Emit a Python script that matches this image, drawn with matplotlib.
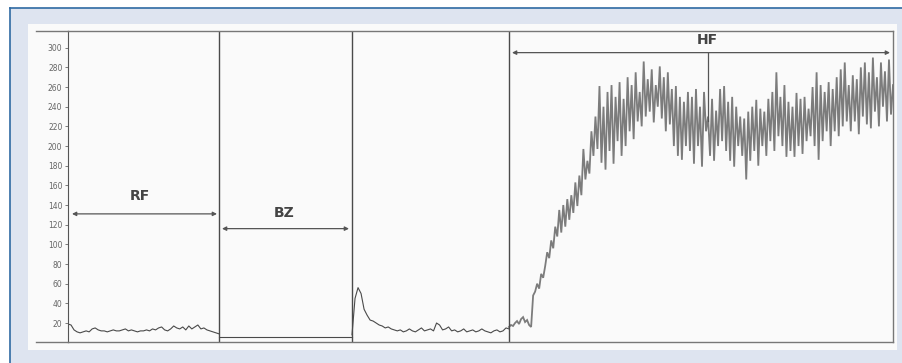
import matplotlib
matplotlib.use('Agg')
import matplotlib.pyplot as plt
from matplotlib.patches import Rectangle
from matplotlib.lines import Line2D
import numpy as np

# ── Data ────────────────────────────────────────────────────
# x axis: arbitrary sample units 0..825
x_rf_end, x_bz_end, x_hf_start, x_end = 151, 284, 441, 825

rf_y = [19, 18, 13, 11, 10, 11, 12, 11, 14, 15, 13, 12, 12, 11, 12, 13, 12,
        12, 13, 14, 12, 13, 12, 11, 12, 12, 13, 12, 14, 13, 15, 16, 13, 12,
        14, 17, 15, 14, 16, 13, 17, 14, 16, 18, 14, 15, 13, 12, 11, 10, 9]
bz_y = [6, 6, 6, 6, 6, 6, 6, 6, 6, 6, 6]
rec_y = [8, 45, 56, 50, 34, 28, 23, 22, 20, 18, 17, 15, 16, 14, 13, 12, 13,
         11, 12, 14, 12, 11, 13, 15, 12, 13, 14, 12, 20, 18, 13, 14, 16, 12,
         13, 11, 12, 14, 11, 12, 13, 11, 12, 14, 12, 11, 10, 12, 13, 11, 12,
         15, 14]
hf_y = [16, 18, 17, 20, 22, 19, 24, 26, 21, 23,
        18, 16, 48, 52, 60, 55, 70, 66, 78, 92,
        86, 104, 96, 118, 108, 135, 112, 140, 118, 146,
        125, 150, 132, 163, 139, 170, 150, 197, 166, 185,
        172, 215, 190, 230, 197, 261, 183, 240, 176, 255,
        195, 262, 182, 250, 205, 265, 190, 248, 200, 270,
        215, 262, 207, 275, 225, 255, 220, 286, 230, 268,
        235, 278, 224, 262, 240, 281, 228, 270, 215, 275,
        222, 258, 200, 261, 190, 250, 186, 245, 200, 255,
        195, 250, 182, 258, 200, 240, 179, 255, 215, 230,
        190, 248, 185, 236, 200, 258, 205, 261, 195, 245,
        185, 250, 179, 240, 200, 230, 190, 228, 166, 235,
        185, 240, 195, 247, 180, 238, 200, 235, 190, 248,
        205, 255, 195, 275, 210, 250, 200, 262, 189, 245,
        195, 240, 189, 254, 200, 248, 192, 250, 205, 238,
        210, 260, 200, 275, 186, 262, 205, 255, 215, 265,
        200, 258, 215, 270, 210, 278, 220, 285, 225, 262,
        215, 272, 225, 268, 212, 280, 230, 285, 222, 275,
        218, 290, 235, 270, 220, 285, 240, 276, 225, 288, 232, 262]

y_ticks = list(range(20, 301, 20))
zones = [('RF', 4, 149, 131, 72, 149), ('BZ', 154, 281, 116, 216, 132)]
hf_arrow = (444, 822, 295)
hf_label = (639, 308)

# ── Figure ──────────────────────────────────────────────────
W, H = 903, 363
fig = plt.figure(figsize=(W / 100, H / 100), dpi=100, facecolor='white')

def fx(px):
    return px / W

def fy(py):
    return 1 - py / H

# page background + blue frame
fig.patches.append(Rectangle((fx(10), 0), 1 - fx(10), fy(8), transform=fig.transFigure,
                             facecolor='#dee4f0', edgecolor='none', zorder=-3))
fig.lines.append(Line2D([fx(10), 1], [fy(8), fy(8)], transform=fig.transFigure,
                        color='#2f6aa3', lw=1.2, zorder=-2))
fig.lines.append(Line2D([fx(10), fx(10)], [0, fy(8)], transform=fig.transFigure,
                        color='#2f6aa3', lw=1.2, zorder=-2))
# inner white panel
fig.patches.append(Rectangle((fx(28), fy(350)), fx(897) - fx(28), fy(24) - fy(350),
                             transform=fig.transFigure, facecolor='#fafafa',
                             edgecolor='none', zorder=-1))

ax = fig.add_axes([fx(68), fy(342), fx(893) - fx(68), fy(31) - fy(342)])
ax.set_facecolor('none')
ax.set_xlim(0, x_end)
ax.set_ylim(0.7, 317)

line_c = '#4a4a4a'
ax.plot(np.linspace(0, x_rf_end, len(rf_y)), rf_y, color=line_c, lw=0.8)
ax.plot(np.linspace(x_rf_end, x_bz_end, len(bz_y)), bz_y, color=line_c, lw=0.8)
ax.plot(np.linspace(x_bz_end, x_hf_start, len(rec_y)), rec_y, color=line_c, lw=0.8)
ax.plot(np.linspace(x_hf_start, x_end, len(hf_y)), hf_y, color='#7c7c7c', lw=1.3,
        solid_joinstyle='miter')

for xv in [x_rf_end, x_bz_end, x_hf_start]:
    ax.axvline(xv, color='#4a4a4a', lw=1.0)

# zone arrows and labels
for name, x0, x1, yv, lx, ly in zones:
    ax.annotate('', xy=(x1, yv), xytext=(x0, yv),
                arrowprops=dict(arrowstyle='<|-|>', color='#555555', lw=0.9,
                                mutation_scale=6, shrinkA=0, shrinkB=0))
    ax.text(lx, ly, name, ha='center', va='center', fontsize=10,
            fontweight='bold', color='#444444')

ax.annotate('', xy=(hf_arrow[1], hf_arrow[2]), xytext=(hf_arrow[0], hf_arrow[2]),
            arrowprops=dict(arrowstyle='<|-|>', color='#555555', lw=0.9,
                            mutation_scale=6, shrinkA=0, shrinkB=0))
ax.plot([640, 640], [hf_arrow[2], 225], color='#555555', lw=0.9)
ax.text(hf_label[0], hf_label[1], 'HF', ha='center', va='center', fontsize=10,
        fontweight='bold', color='#444444')

# axes styling
for s in ['top', 'bottom', 'right']:
    ax.spines[s].set_color('#777777')
    ax.spines[s].set_linewidth(1.0)
ax.spines['left'].set_color('#555555')
ax.set_xticks([])
ax.set_yticks(y_ticks)
ax.set_yticklabels([str(t) for t in y_ticks])
ax.tick_params(axis='y', direction='out', length=2.5, width=0.6, pad=1.5,
               labelsize=5.5, colors='#666666')

# top/bottom frame lines run past the y axis to the left
for py in [31, 342]:
    fig.lines.append(Line2D([fx(36), fx(68)], [fy(py), fy(py)], transform=fig.transFigure,
                            color='#777777', lw=1.0))

fig.savefig('out.png', dpi=100, facecolor=fig.get_facecolor())
